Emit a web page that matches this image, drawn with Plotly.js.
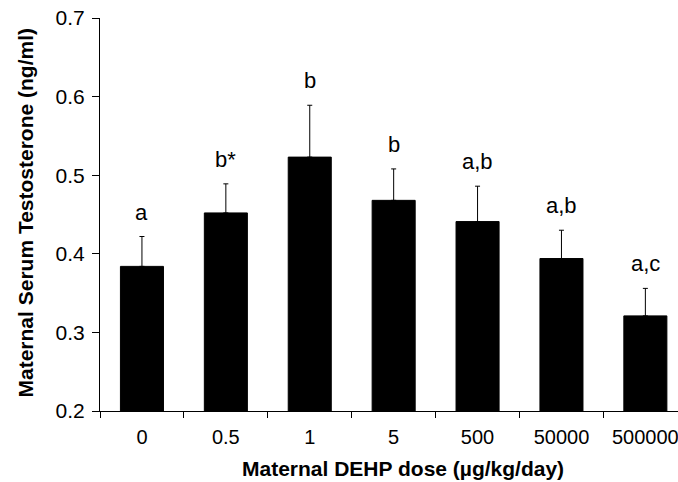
<!DOCTYPE html>
<html>
<head>
<meta charset="utf-8">
<script src="https://cdn.plot.ly/plotly-3.0.1.min.js"></script>
<style>
html,body{margin:0;padding:0;background:#fff;}
#chart{width:678px;height:482px;}
</style>
</head>
<body>
<div id="chart"></div>
<script>
const doses = ["0", "0.5", "1", "5", "500", "50000", "500000"];
const testosterone = [0.384, 0.452, 0.523, 0.468, 0.441, 0.394, 0.321];
const errorUp = [0.038, 0.037, 0.066, 0.040, 0.045, 0.036, 0.035];
const groupLabels = ["a", "b*", "b", "b", "a,b", "a,b", "a,c"];

const FONT = "Liberation Sans, Arial, sans-serif";

const trace = {
  type: "bar",
  x: doses,
  y: testosterone,
  width: 0.513,
  marker: {color: "#000000", line: {width: 1, color: "#000000"}},
  error_y: {
    type: "data",
    symmetric: false,
    array: errorUp,
    arrayminus: errorUp.map(() => 0),
    color: "#000000",
    thickness: 1,
    width: 2.5
  },
  hoverinfo: "skip"
};

const annotations = doses.map((d, i) => ({
  x: i,
  y: testosterone[i] + errorUp[i],
  xref: "x",
  yref: "y",
  text: groupLabels[i],
  showarrow: false,
  xanchor: "center",
  yanchor: "bottom",
  yshift: 10,
  font: {family: FONT, size: 22, color: "#000"}
}));

annotations.push({
  text: "<b>Maternal DEHP dose (µg/kg/day)</b>",
  xref: "paper", yref: "paper",
  x: 0.524, y: 0,
  xanchor: "center", yanchor: "middle",
  yshift: -57,
  showarrow: false,
  font: {family: FONT, size: 21, color: "#000"}
});
annotations.push({
  text: "<b>Maternal Serum Testosterone (ng/ml)</b>",
  xref: "paper", yref: "paper",
  x: 0, y: 0.5,
  xanchor: "center", yanchor: "middle",
  xshift: -75, yshift: 2,
  textangle: -90,
  showarrow: false,
  font: {family: FONT, size: 21, color: "#000"}
});

const layout = {
  width: 678,
  height: 482,
  margin: {l: 100, r: 0, t: 17.5, b: 70.5},
  paper_bgcolor: "#ffffff",
  plot_bgcolor: "#ffffff",
  showlegend: false,
  font: {family: FONT, size: 20, color: "#000"},
  xaxis: {
    type: "category",
    range: [-0.5, 6.389],
    showline: true,
    linecolor: "#000",
    linewidth: 1,
    ticks: "outside",
    tickson: "boundaries",
    ticklen: 6,
    tickcolor: "#000",
    ticklabelstandoff: 8,
    showgrid: false,
    zeroline: false,
    tickfont: {family: FONT, size: 20, color: "#000"}
  },
  yaxis: {
    range: [0.2, 0.7],
    tickvals: [0.2, 0.3, 0.4, 0.5, 0.6, 0.7],
    ticktext: ["0.2", "0.3", "0.4", "0.5", "0.6", "0.7"],
    showline: true,
    linecolor: "#000",
    linewidth: 1,
    ticks: "outside",
    ticklen: 7,
    tickcolor: "#000",
    ticklabelstandoff: 3,
    showgrid: false,
    zeroline: false,
    tickfont: {family: FONT, size: 21, color: "#000"}
  },
  annotations: annotations
};

Plotly.newPlot("chart", [trace], layout, {displayModeBar: false, staticPlot: true});
</script>
</body>
</html>
